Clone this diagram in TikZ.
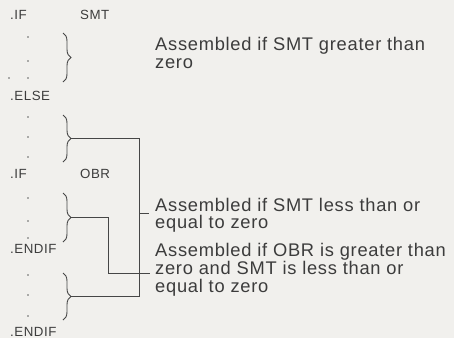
\documentclass[tikz,border=0pt]{standalone}
\usepackage{fontspec}
\setmainfont{Liberation Sans}
\newfontfamily\labfont[LetterSpace=4]{Liberation Sans}
\usetikzlibrary{decorations.pathreplacing}
\definecolor{paper}{RGB}{241,240,237}
\definecolor{ink}{RGB}{60,60,60}
\definecolor{wire}{RGB}{70,70,70}
\begin{document}
\begin{tikzpicture}[x=1pt,y=-1pt,
  codetxt/.style={anchor=base west,inner sep=0pt,text=ink,font=\labfont\fontsize{13.3}{13.3}\selectfont},
  labtxt/.style={anchor=base west,inner sep=0pt,text=ink,font=\labfont\fontsize{18.3}{18}\selectfont},
  dotmark/.style={fill=ink!80,draw=none},
  bracestyle/.style={draw=wire,line width=0.9pt,decorate,decoration={brace,amplitude=8pt}},
  wirestyle/.style={draw=wire,line width=0.9pt}]
\clip (0,0) rectangle (454,338);
\fill[paper] (0,0) rectangle (454,338);
% code column
\node[codetxt] (if1) at (10,19.5) {.IF};
\node[codetxt] (smt) at (80,19.5) {SMT};
\node[codetxt] (else) at (10,100) {.ELSE};
\node[codetxt] (if2) at (10,178) {.IF};
\node[codetxt] (obr) at (80,178) {OBR};
\node[codetxt] (endif1) at (10,253) {.ENDIF};
\node[codetxt] (endif2) at (10,336.5) {.ENDIF};
% dots
\foreach \yy in {37,61,78,117,137,157,198,221,238,275,295,316}
  \fill[dotmark] (28,\yy) circle (0.9);
\fill[dotmark] (9,78) circle (0.8);
% braces
\draw[bracestyle] (63,33) -- (63,82);
\draw[bracestyle] (63,115) -- (63,162);
\draw[bracestyle] (63,193) -- (63,242);
\draw[bracestyle] (63,273) -- (63,320);
\coordinate (b1) at (71,57.5);
\coordinate (b2) at (71,138.5);
\coordinate (b3) at (71,217.5);
\coordinate (b4) at (71,296.5);
% labels
\node[labtxt] (l1a) at (155,50) {Assembled if SMT greater than};
\node[labtxt] (l1b) at (155,68.3) {zero};
\node[labtxt] (l2a) at (155,211) {Assembled if SMT less than or};
\node[labtxt] (l2b) at (155,228.6) {equal to zero};
\node[labtxt] (l3a) at (155,256) {Assembled if OBR is greater than};
\node[labtxt] (l3b) at (155,274) {zero and SMT is less than or};
\node[labtxt] (l3c) at (155,292) {equal to zero};
\coordinate (t2) at (149,213);
\coordinate (t3) at (150,273);
% connectors
\draw[wirestyle] (b2) -- (139,138.5) -- (139,296.5) -- (b4);
\draw[wirestyle] (139,213) -- (t2);
\draw[wirestyle] (b3) -- (108,217.5) -- (108,273) -- (t3);
\end{tikzpicture}
\end{document}
